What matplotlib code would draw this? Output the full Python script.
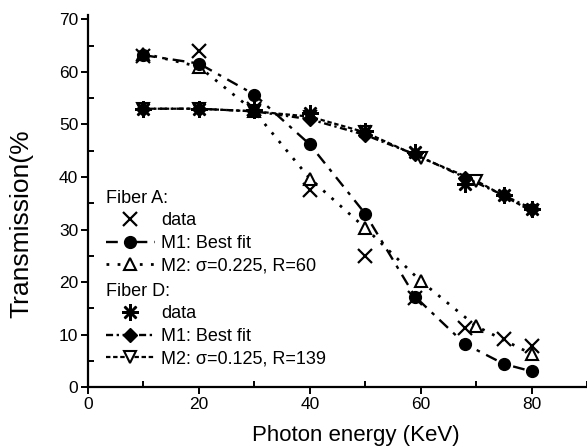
import matplotlib
matplotlib.use("Agg")
from matplotlib import pyplot as plt
from matplotlib.ticker import MultipleLocator

plt.rcParams['font.family'] = ['Liberation Sans', 'DejaVu Sans']

# Fiber A
a_x = [10, 20, 30, 40, 50, 59, 68, 75, 80]
a_data = [63.0, 64.0, 53.0, 37.5, 25.0, 17.0, 11.3, 9.2, 7.8]
a_m1 = [63.2, 61.6, 55.7, 46.2, 33.0, 17.2, 8.2, 4.4, 3.0]
a_m2_x = [10, 20, 30, 40, 50, 60, 70, 80]
a_m2 = [63.5, 61.0, 52.5, 39.7, 30.3, 20.2, 11.6, 6.3]

# Fiber D
d_x = [10, 20, 30, 40, 50, 59, 68, 75, 80]
d_data = [53.0, 53.0, 52.7, 52.1, 48.8, 44.7, 38.7, 36.5, 33.9]
d_m1 = [53.0, 53.0, 52.5, 51.0, 48.0, 44.3, 39.9, 36.5, 34.0]
d_m2_x = [10, 20, 30, 40, 50, 60, 70, 80]
d_m2 = [53.0, 53.0, 52.5, 51.5, 48.5, 43.7, 39.3, 33.5]

fig = plt.figure(figsize=(5.87, 4.48), dpi=100)
ax = fig.add_axes([0.150, 0.136, 0.850, 0.830])

asterisk = (8, 2, 0)
la_m2, = ax.plot(a_m2_x, a_m2, linestyle=(0, (1, 3)), marker="^", color="black", markersize=8.5, lw=2,
                 mfc="white", mew=1.5, zorder=2)
ld_m2, = ax.plot(d_m2_x, d_m2, linestyle=(0, (2, 1.2)), marker="v", color="black", markersize=8.5, lw=1.6,
                 mfc="white", mew=1.5, zorder=2)
la_m1, = ax.plot(a_x, a_m1, linestyle=(0, (5, 3, 1.5, 3)), marker="o", color="black", markersize=8.5, lw=1.7,
                 zorder=3)
ld_m1, = ax.plot(d_x, d_m1, linestyle=(0, (3, 1.5, 1, 1.5)), marker="D", color="black", markersize=7.5, lw=1.7,
                 zorder=3)
la_d, = ax.plot(a_x, a_data, linestyle="none", marker="x", color="black", markersize=10.5, mew=1.6, zorder=4)
ld_d, = ax.plot(d_x, d_data, linestyle="none", marker=asterisk, color="black", markersize=12, mew=1.8, zorder=4)

ax.set_xlim(0, 90)
ax.set_ylim(0, 70.8)
ax.spines["top"].set_visible(False)
ax.spines["right"].set_visible(False)
for s in ("left", "bottom"):
    ax.spines[s].set_linewidth(1.6)

ax.xaxis.set_major_locator(MultipleLocator(20))
ax.xaxis.set_minor_locator(MultipleLocator(10))
ax.yaxis.set_major_locator(MultipleLocator(10))
ax.yaxis.set_minor_locator(MultipleLocator(5))
ax.tick_params(which="major", direction="out", length=5, width=1.4, labelsize=12.5, pad=2)
ax.tick_params(which="minor", direction="in", length=4, width=1.4)
ax.set_xticks([0, 20, 40, 60, 80])

ax.set_xlabel("Photon energy (KeV)", fontsize=16)
ax.xaxis.set_label_coords(0.537, -0.102)
ax.set_ylabel("Transmission(%", fontsize=19)
ax.yaxis.set_label_coords(-0.11, 0.44)

kw = dict(frameon=False, fontsize=13, handlelength=2.7, handletextpad=0.35, labelspacing=0.3,
          borderpad=0, alignment="left", loc="upper left", bbox_transform=fig.transFigure)
leg1 = ax.legend([la_d, la_m1, la_m2], ["data", "M1: Best fit", "M2: σ=0.225, R=60"],
                 title="Fiber A:", title_fontsize=13, bbox_to_anchor=(97 / 587, 1 - 181 / 448), **kw)
ax.add_artist(leg1)
ax.legend([ld_d, ld_m1, ld_m2], ["data", "M1: Best fit", "M2: σ=0.125, R=139"],
          title="Fiber D:", title_fontsize=13, bbox_to_anchor=(97 / 587, 1 - 274 / 448), **kw)

fig.savefig("out.png", dpi=100)
